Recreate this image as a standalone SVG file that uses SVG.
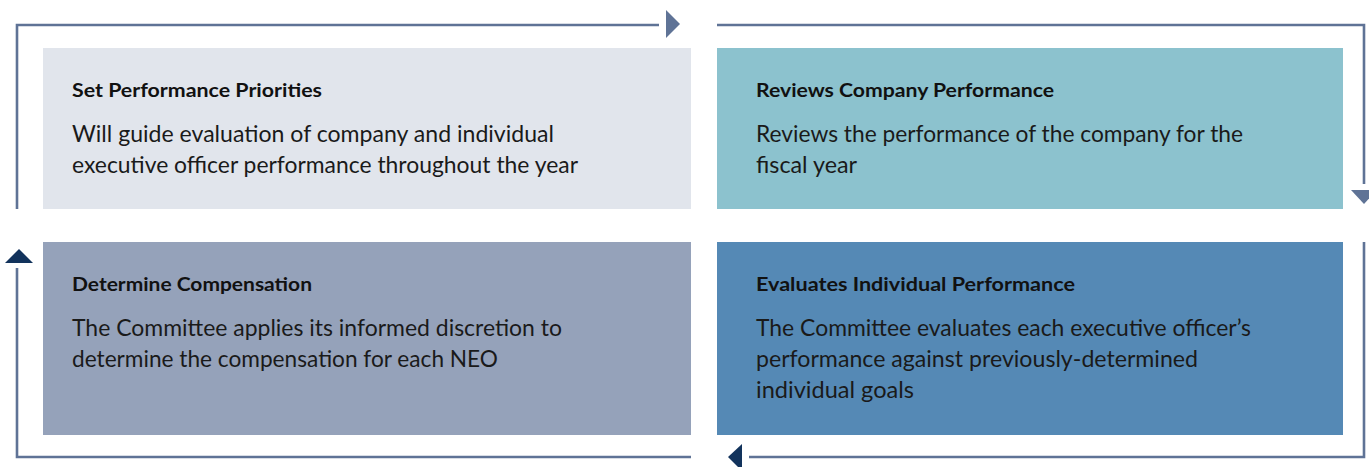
<svg xmlns="http://www.w3.org/2000/svg" width="1369" height="467" viewBox="0 0 1369 467">
<style>
.t{font-family:Lato,"Liberation Sans",sans-serif;font-weight:bold;font-size:19.5px;fill:#111}
.b{font-family:Lato,"Liberation Sans",sans-serif;font-size:22.5px;fill:#1a1a1a}
.ln{fill:none;stroke:#5f7396;stroke-width:2.6}
</style>
<rect width="1369" height="467" fill="#fff"/>
<g id="connectors">
<path class="ln" d="M17,209 V25 H659"/>
<polygon points="666,10 680,24 666,38" fill="#5f7396"/>
<path class="ln" d="M717,25 H1364 V184"/>
<polygon points="1351,190 1377,190 1364,204" fill="#5f7396"/>
<path class="ln" d="M1364,242 V457 H749"/>
<polygon points="742,444 742,471 728,457" fill="#12335c"/>
<path class="ln" d="M691,457 H17 V268"/>
<polygon points="5,263 33,263 19,249" fill="#12335c"/>
</g>
<g id="node-set">
<rect x="43" y="48" width="648" height="161" fill="#e1e5ec"/>
<text class="t" x="72" y="97" textLength="250" lengthAdjust="spacingAndGlyphs">Set Performance Priorities</text>
<text class="b" x="72" y="142" textLength="482" lengthAdjust="spacingAndGlyphs">Will guide evaluation of company and individual</text>
<text class="b" x="72" y="173" textLength="506" lengthAdjust="spacingAndGlyphs">executive officer performance throughout the year</text>
</g>
<g id="node-reviews">
<rect x="717" y="48" width="626" height="161" fill="#8cc2ce"/>
<text class="t" x="756" y="97" textLength="298" lengthAdjust="spacingAndGlyphs">Reviews Company Performance</text>
<text class="b" x="756" y="142" textLength="487" lengthAdjust="spacingAndGlyphs">Reviews the performance of the company for the</text>
<text class="b" x="756" y="173" textLength="101" lengthAdjust="spacingAndGlyphs">fiscal year</text>
</g>
<g id="node-determine">
<rect x="43" y="242" width="648" height="193" fill="#95a2ba"/>
<text class="t" x="72" y="291" textLength="240" lengthAdjust="spacingAndGlyphs">Determine Compensation</text>
<text class="b" x="72" y="336" textLength="490" lengthAdjust="spacingAndGlyphs">The Committee applies its informed discretion to</text>
<text class="b" x="72" y="367" textLength="426" lengthAdjust="spacingAndGlyphs">determine the compensation for each NEO</text>
</g>
<g id="node-evaluates">
<rect x="717" y="242" width="626" height="193" fill="#5589b5"/>
<text class="t" x="756" y="291" textLength="319" lengthAdjust="spacingAndGlyphs">Evaluates Individual Performance</text>
<text class="b" x="756" y="336" textLength="495" lengthAdjust="spacingAndGlyphs">The Committee evaluates each executive officer’s</text>
<text class="b" x="756" y="367" textLength="442" lengthAdjust="spacingAndGlyphs">performance against previously-determined</text>
<text class="b" x="756" y="398" textLength="158" lengthAdjust="spacingAndGlyphs">individual goals</text>
</g>
</svg>
